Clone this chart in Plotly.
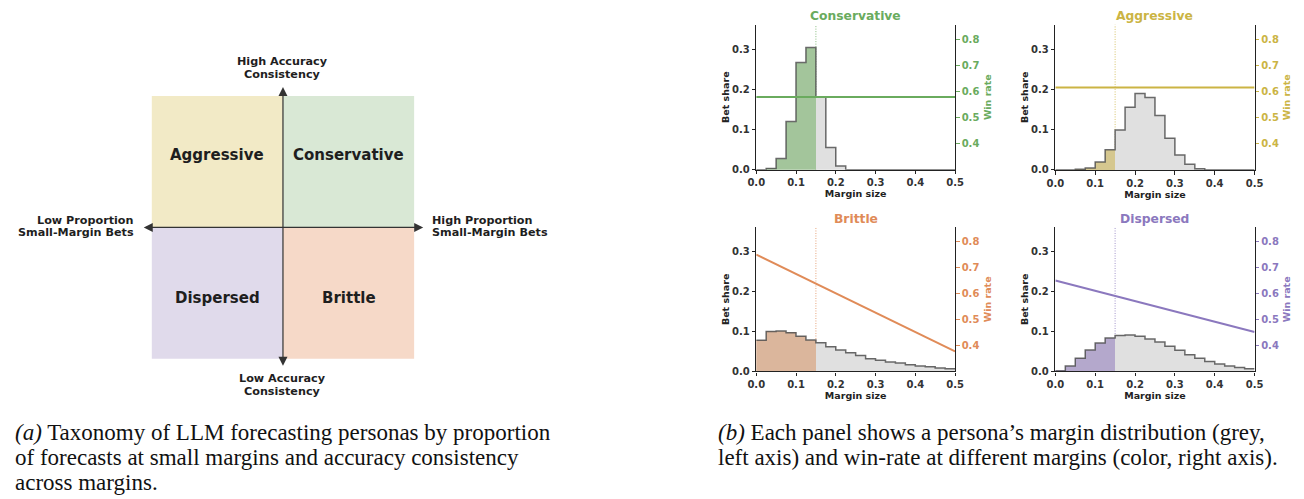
import plotly.graph_objects as go

W, H = 1304, 499

# ---------------- data ----------------
personas = ["Conservative", "Aggressive", "Brittle", "Dispersed"]
BIN_WIDTH = 0.025
bin_edges = [round(i * BIN_WIDTH, 3) for i in range(21)]
bin_centers = [round(e + BIN_WIDTH / 2, 4) for e in bin_edges[:-1]]
SMALL_MARGIN_THRESHOLD = 0.15

share_conservative = [0.0, 0.003, 0.028, 0.120, 0.267, 0.304, 0.181, 0.055, 0.009, 0.0,
                      0.0, 0.0, 0.0, 0.0, 0.0, 0.0, 0.0, 0.0, 0.0, 0.0]
share_aggressive = [0.0, 0.0, 0.002, 0.005, 0.020, 0.050, 0.099, 0.156, 0.190, 0.180,
                    0.135, 0.079, 0.037, 0.014, 0.003, 0.0, 0.0, 0.0, 0.0, 0.0]
share_brittle = [0.078, 0.100, 0.101, 0.097, 0.088, 0.079, 0.072, 0.062, 0.054, 0.047,
                 0.040, 0.032, 0.028, 0.024, 0.021, 0.017, 0.014, 0.012, 0.009, 0.007]
share_dispersed = [0.001, 0.014, 0.033, 0.054, 0.071, 0.084, 0.090, 0.091, 0.088, 0.081,
                   0.074, 0.063, 0.053, 0.042, 0.033, 0.025, 0.019, 0.014, 0.010, 0.007]

win_margin = [0.0, 0.5]
win_conservative = [0.578, 0.578]
win_aggressive = [0.615, 0.615]
win_brittle = [0.750, 0.377]
win_dispersed = [0.650, 0.452]

left_ticks = [0.0, 0.1, 0.2, 0.3]
right_ticks = [0.4, 0.5, 0.6, 0.7, 0.8]
x_ticks = [0.0, 0.1, 0.2, 0.3, 0.4, 0.5]

quadrant_names = ["Aggressive", "Conservative", "Dispersed", "Brittle"]
quadrant_xsign = [-1, 1, -1, 1]
quadrant_ysign = [1, 1, -1, -1]
quadrant_colors = ["#F2EAC6", "#D9E8D5", "#E0DAEB", "#F6D9C8"]

caption_a = ["<i>(a)</i> Taxonomy of LLM forecasting personas by proportion",
             "of forecasts at small margins and accuracy consistency",
             "across margins."]
caption_b = ["<i>(b)</i> Each panel shows a persona’s margin distribution (grey,",
             "left axis) and win-rate at different margins (color, right axis)."]

# ---------------- styles ----------------
line_colors = {"Conservative": "#6AAB5E", "Aggressive": "#CBB444",
               "Brittle": "#E08B58", "Dispersed": "#8B78BE"}
fill_colors = {"Conservative": "#A3C59B", "Aggressive": "#D5C78F",
               "Brittle": "#DBB69C", "Dispersed": "#B4A8CC"}
GREY = "#E0E0E0"
FONT = "DejaVu Sans"
SERIF = "Liberation Serif"

shares = {"Conservative": share_conservative, "Aggressive": share_aggressive,
          "Brittle": share_brittle, "Dispersed": share_dispersed}
wins = {"Conservative": win_conservative, "Aggressive": win_aggressive,
        "Brittle": win_brittle, "Dispersed": win_dispersed}

# panel pixel boxes: (left, right, top, bottom)
panel_px = [(757.7, 959.3, 25, 171.7), (1061, 1263, 25, 172),
            (757.7, 959.3, 230, 376), (1061, 1263, 230, 376)]


def ax_id(letter, n):
    return letter if n == 1 else f"{letter}{n}"


def ax_key(letter, n):
    return f"{letter}axis" if n == 1 else f"{letter}axis{n}"


fig = go.Figure()
layout = dict(width=W, height=H, margin=dict(l=0, r=0, t=0, b=0),
              paper_bgcolor="white", plot_bgcolor="white", showlegend=False,
              bargap=0)
shapes = []
annotations = []

for k, name in enumerate(personas):
    xa, ya, yr = ax_id("x", k + 1), ax_id("y", k + 1), ax_id("y", k + 5)
    col = line_colors[name]
    vals = shares[name]
    bar_cols = [fill_colors[name] if c < SMALL_MARGIN_THRESHOLD else GREY for c in bin_centers]
    fig.add_trace(go.Bar(x=bin_centers, y=vals, width=BIN_WIDTH,
                         marker=dict(color=bar_cols, line=dict(width=0)),
                         xaxis=xa, yaxis=ya, hoverinfo="skip"))
    fig.add_trace(go.Scatter(x=bin_edges, y=vals + [vals[-1]], mode="lines",
                             line=dict(shape="hv", color="rgba(80,80,80,0.85)", width=1.5),
                             xaxis=xa, yaxis=ya, hoverinfo="skip"))
    fig.add_trace(go.Scatter(x=win_margin, y=wins[name], mode="lines",
                             line=dict(color=col, width=2),
                             xaxis=xa, yaxis=yr, hoverinfo="skip"))
    shapes.append(dict(type="line", xref=xa, yref=f"{ya} domain",
                       x0=SMALL_MARGIN_THRESHOLD, x1=SMALL_MARGIN_THRESHOLD, y0=0, y1=1,
                       line=dict(color=col, width=0.8, dash="1px,1.5px"), layer="below"))

    l, r, t, b = panel_px[k]
    tickfont = dict(family=FONT, size=10, color="#333", weight="bold")
    titlefont = dict(family=FONT, size=9.5, color="#222", weight="bold")
    layout[ax_key("x", k + 1)] = dict(
        domain=[l / W, r / W], anchor=ya, range=[0, 0.5], tickvals=x_ticks,
        tickformat=".1f", ticks="outside", ticklen=3.5, tickwidth=1, tickcolor="#222",
        showline=True, linecolor="#222", linewidth=1.2, showgrid=False, zeroline=False,
        tickfont=tickfont,
        title=dict(text="Margin size", font=titlefont, standoff=0))
    layout[ax_key("y", k + 1)] = dict(
        domain=[1 - b / H, 1 - t / H], anchor=xa, range=[0, 0.361], tickvals=left_ticks,
        tickformat=".1f", ticks="outside", ticklen=3.5, tickwidth=1, tickcolor="#222",
        showline=True, linecolor="#222", linewidth=1.2, showgrid=False, zeroline=False,
        tickfont=tickfont,
        title=dict(text="Bet share", font=titlefont, standoff=0))
    layout[ax_key("y", k + 5)] = dict(
        overlaying=ya, side="right", anchor=xa, range=[0.30, 0.855], tickvals=right_ticks,
        tickformat=".1f", ticks="outside", ticklen=3.5, tickwidth=1, tickcolor=col,
        showline=True, linecolor="#222", linewidth=1.2, showgrid=False, zeroline=False,
        tickfont=dict(family=FONT, size=10, color=col, weight="bold"),
        title=dict(text="Win rate", font=dict(family=FONT, size=9.5, color=col, weight="bold"),
                   standoff=5))
    annotations.append(dict(text=name, xref="paper", yref="paper",
                            x=(l + r) / 2 / W, y=1 - (t - 8.3) / H,
                            xanchor="center", yanchor="middle", showarrow=False,
                            font=dict(family=FONT, size=12.3, color=col, weight="bold")))

# ---------------- taxonomy diagram ----------------
U = 133.0  # px per data unit
CX, CY = 277.8, 230.2
dx0, dx1, dy0, dy1 = 0, 560, 40, 410
layout["xaxis5"] = dict(domain=[dx0 / W, dx1 / W], anchor="y9",
                        range=[(dx0 - CX) / U, (dx1 - CX) / U], visible=False, fixedrange=True)
layout["yaxis9"] = dict(domain=[1 - dy1 / H, 1 - dy0 / H], anchor="x5",
                        range=[(CY - dy1) / U, (CY - dy0) / U], visible=False, fixedrange=True)

for qn, sx, sy, qc in zip(quadrant_names, quadrant_xsign, quadrant_ysign, quadrant_colors):
    shapes.append(dict(type="rect", xref="x5", yref="y9", x0=min(0, sx), x1=max(0, sx),
                       y0=min(0, sy), y1=max(0, sy), fillcolor=qc, line=dict(width=0),
                       layer="below"))
    annotations.append(dict(text=qn, xref="x5", yref="y9", x=0.5 * sx,
                            y=0.553 if sy > 0 else -0.538, showarrow=False,
                            xanchor="center", yanchor="middle",
                            font=dict(family=FONT, size=15, color="#1E1E1E", weight="bold")))

arrow_style = dict(xref="x5", yref="y9", axref="x5", ayref="y9", text="", showarrow=True,
                   arrowhead=2, arrowside="end+start", arrowsize=1.5, arrowwidth=1.2,
                   arrowcolor="#333")
annotations.append(dict(x=0, y=1.069, ax=0, ay=-1.064, **arrow_style))
annotations.append(dict(x=1.069, y=0, ax=-1.073, ay=0, **arrow_style))

axis_font = dict(family=FONT, size=11.2, color="#1E1E1E", weight="bold")
axis_labels = [("High Accuracy", 0, 1.259, "center"), ("Consistency", 0, 1.167, "center"),
               ("Low Accuracy", 0, -1.151, "center"), ("Consistency", 0, -1.247, "center"),
               ("Low Proportion", -1.117, 0.052, "right"),
               ("Small-Margin Bets", -1.117, -0.041, "right"),
               ("High Proportion", 1.12, 0.056, "left"),
               ("Small-Margin Bets", 1.12, -0.036, "left")]
for txt, x, y, anc in axis_labels:
    annotations.append(dict(text=txt, xref="x5", yref="y9", x=x, y=y, showarrow=False,
                            xanchor=anc, yanchor="middle", font=axis_font))

# ---------------- captions ----------------
cap_font = dict(family=SERIF, size=23, color="#111")
cap_line_y = [437.5, 463.0, 488.5]
for i, line in enumerate(caption_a):
    annotations.append(dict(text=line, xref="paper", yref="paper", x=4 / W,
                            y=1 - cap_line_y[i] / H, xanchor="left", yanchor="middle",
                            showarrow=False, font=cap_font))
for i, line in enumerate(caption_b):
    annotations.append(dict(text=line, xref="paper", yref="paper", x=717 / W,
                            y=1 - cap_line_y[i] / H, xanchor="left", yanchor="middle",
                            showarrow=False, font=cap_font))

layout["shapes"] = shapes
layout["annotations"] = annotations
fig.update_layout(**layout)
fig.write_html("out.html", config={"displayModeBar": False},
               post_script="document.body.style.margin='0';document.body.style.overflow='hidden';")
